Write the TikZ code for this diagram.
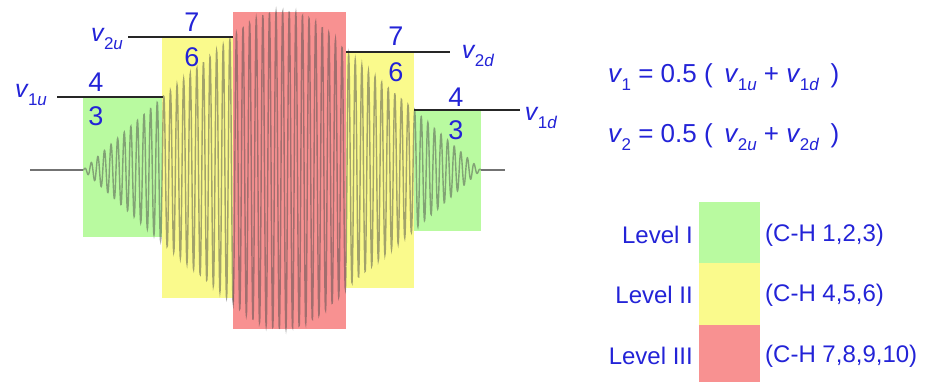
\documentclass[tikz,border=0pt]{standalone}
\usepackage{fontspec}
\setmainfont{Liberation Sans}
\definecolor{txtblue}{RGB}{35,35,215}
\definecolor{lgreen}{RGB}{185,250,160}
\definecolor{lyellow}{RGB}{250,250,140}
\definecolor{lred}{RGB}{248,145,145}
\newcommand{\vsub}[1]{\textit{v}\kern-0.03em\raisebox{-0.32em}{\fontsize{17}{17}\selectfont #1}}
\begin{document}
\begin{tikzpicture}[x=1pt,y=-1pt,
  lab/.style={text=txtblue, font=\fontsize{25}{30}\selectfont, inner sep=0pt},
  num/.style={text=txtblue, font=\fontsize{27}{30}\selectfont, inner sep=0pt},
  eqtxt/.style={text=txtblue, font=\fontsize{26}{30}\selectfont, inner sep=0pt, anchor=west},
  legtxt/.style={text=txtblue, font=\fontsize{24}{28}\selectfont, inner sep=0pt},
  levelline/.style={draw=black!85, line width=1.3pt},
  baseline/.style={draw=black!55, line width=1.3pt},
  wave/.style={draw=black!70, opacity=0.5, line width=1.4pt},
  legbox/.style={minimum width=61, minimum height=62, inner sep=0pt, anchor=north west, draw=none}]
\useasboundingbox (0,0) rectangle (932,381);
% coloured regions
\fill[lgreen] (83,97) rectangle (163,237);
\fill[lyellow] (162,37) rectangle (233,298);
\fill[lred] (233,12) rectangle (346,329);
\fill[lyellow] (346,52) rectangle (414,288);
\fill[lgreen] (414,110) rectangle (481,231);
% waves
\draw[wave] plot[domain=83:163, samples=400, smooth] (\x, {170 - 73*(\x-83)/80*sin(mod(\x-83,6.6)*360/6.6)});
\draw[wave] plot[domain=163:233, samples=360, smooth] (\x, {170 - (73+60*(\x-163)/70)*sin(mod(\x-83,6.6)*360/6.6)});
\draw[wave] plot[domain=233:346, samples=560, smooth] (\x, {170 - (158-0.1428*(\x-290)-0.0102*(\x-290)^2)*sin(mod(\x-83,6.6)*360/6.6)});
\draw[wave] plot[domain=346:414, samples=340, smooth] (\x, {170 - (118-58*(\x-346)/68)*sin(mod(\x-83,6.6)*360/6.6)});
\draw[wave] plot[domain=414:481, samples=340, smooth] (\x, {170 - 60*(481-\x)/67*sin(mod(\x-83,6.6)*360/6.6)});
% base lines
\coordinate (bl0) at (30,170); \coordinate (bl1) at (83,170);
\coordinate (br0) at (481,170); \coordinate (br1) at (505,170);
\draw[baseline] (bl0) -- (bl1);
\draw[baseline] (br0) -- (br1);
% level lines
\coordinate (a0) at (57,97); \coordinate (a1) at (163,97);
\coordinate (b0) at (128,37); \coordinate (b1) at (233,37);
\coordinate (c0) at (346,52); \coordinate (c1) at (450,52);
\coordinate (d0) at (414,110); \coordinate (d1) at (520,110);
\draw[levelline] (a0) -- (a1);
\draw[levelline] (b0) -- (b1);
\draw[levelline] (c0) -- (c1);
\draw[levelline] (d0) -- (d1);
% labels
\node[lab] (v1u) at (31,95) {\vsub{1\textit{u}}};
\node[lab] (v2u) at (107,39) {\vsub{2\textit{u}}};
\node[lab] (v2d) at (478,56) {\vsub{2\textit{d}}};
\node[lab] (v1d) at (541,118) {\vsub{1\textit{d}}};
\node[num] (n4l) at (96,82) {4};
\node[num] (n3l) at (96,116) {3};
\node[num] (n7l) at (192,22) {7};
\node[num] (n6l) at (192,57) {6};
\node[num] (n7r) at (396,36) {7};
\node[num] (n6r) at (396,72) {6};
\node[num] (n4r) at (456,97) {4};
\node[num] (n3r) at (456,130) {3};
% equations
\node[eqtxt] (eq1) at (608,77) {\vsub{1} = 0.5 (\, \vsub{1\textit{u}} + \vsub{1\textit{d}}\, )};
\node[eqtxt] (eq2) at (608,137) {\vsub{2} = 0.5 (\, \vsub{2\textit{u}} + \vsub{2\textit{d}}\, )};
% legend
\node[legbox, fill=lgreen] (boxI) at (699,202) {};
\node[legbox, fill=lyellow] (boxII) at (699,263) {};
\node[legbox, fill=lred] (boxIII) at (699,325) {};
\node[legtxt, anchor=east] (levI) at (693,235) {Level I};
\node[legtxt, anchor=east] (levII) at (693,295) {Level II};
\node[legtxt, anchor=east] (levIII) at (693,356) {Level III};
\node[legtxt, anchor=west] (chI) at (765,235) {(C-H 1,2,3)};
\node[legtxt, anchor=west] (chII) at (765,295) {(C-H 4,5,6)};
\node[legtxt, anchor=west] (chIII) at (765,356) {(C-H 7,8,9,10)};
\end{tikzpicture}
\end{document}
